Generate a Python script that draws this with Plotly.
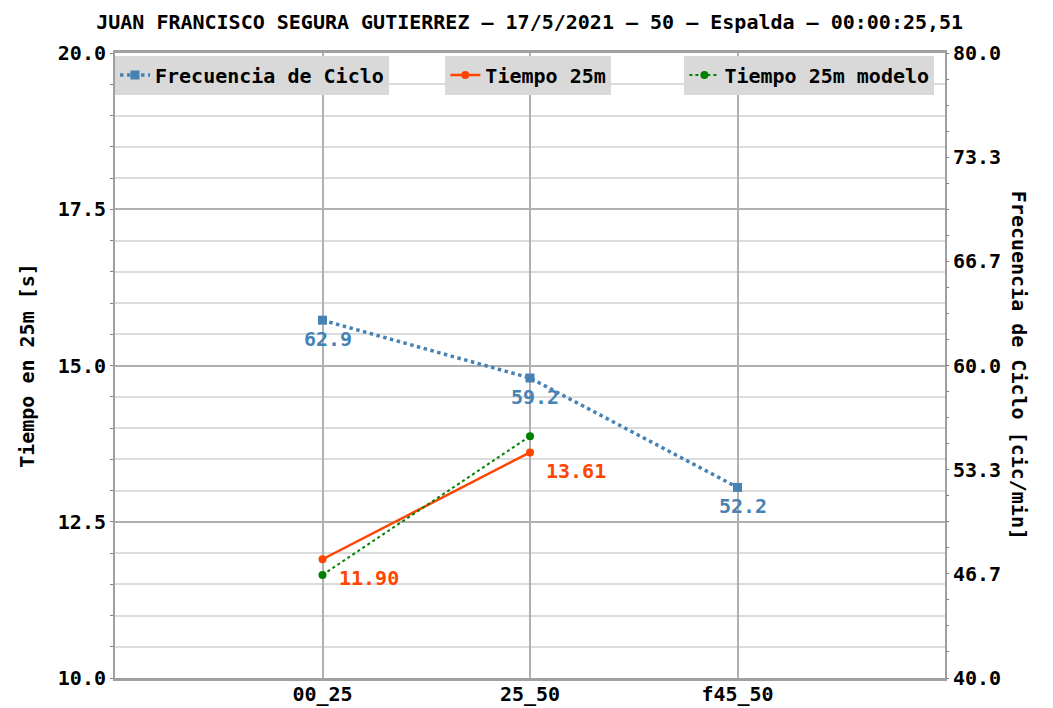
import plotly.graph_objects as go

categorias = ["00_25", "25_50", "f45_50"]
frecuencia = [62.9, 59.2, 52.2]
tiempo_cats = ["00_25", "25_50"]
tiempo_25m = [11.90, 13.61]
tiempo_modelo = [11.65, 13.87]

titulo = "JUAN FRANCISCO SEGURA GUTIERREZ – 17/5/2021 – 50 – Espalda – 00:00:25,51"
FONT = "DejaVu Sans Mono"
FS = 20
BF = dict(family=FONT, size=FS, color="black", weight="bold")

fig = go.Figure()
fig.add_trace(go.Scatter(
    x=categorias, y=frecuencia, yaxis="y2", name="Frecuencia de Ciclo",
    mode="lines+markers",
    line=dict(color="#4682b4", width=3.5, dash="dot"),
    marker=dict(symbol="square", size=9, color="#4682b4"),
    legend="legend", showlegend=True))
fig.add_trace(go.Scatter(
    x=tiempo_cats, y=tiempo_25m, name="Tiempo 25m",
    mode="lines+markers",
    line=dict(color="#ff4500", width=2.5),
    marker=dict(symbol="circle", size=8, color="#ff4500"),
    legend="legend2", showlegend=True))
fig.add_trace(go.Scatter(
    x=tiempo_cats, y=tiempo_modelo, name="Tiempo 25m modelo",
    mode="lines+markers",
    line=dict(color="#008000", width=2, dash="dot"),
    marker=dict(symbol="circle", size=8, color="#008000"),
    legend="legend3", showlegend=True))

annots = []
for c, v in zip(categorias, frecuencia):
    annots.append(dict(x=c, y=v, xref="x", yref="y2", text=f"{v:.1f}", showarrow=False,
                       xanchor="center", yanchor="middle", xshift=5, yshift=-19,
                       font=dict(family=FONT, size=FS, color="#4682b4", weight="bold")))
for c, v in zip(tiempo_cats, tiempo_25m):
    annots.append(dict(x=c, y=v, xref="x", yref="y", text=f"{v:.2f}", showarrow=False,
                       xanchor="left", yanchor="middle", xshift=14, yshift=-19,
                       font=dict(family=FONT, size=FS, color="#ff4500", weight="bold")))
annots.append(dict(text="Frecuencia de Ciclo [cic/min]", textangle=90,
                   xref="paper", yref="paper", x=1.09, y=0.5, xanchor="center", yanchor="middle",
                   showarrow=False, font=BF))

leg_common = dict(bgcolor="#d9d9d9", font=BF,
                  xref="paper", yref="paper", xanchor="left", yanchor="top",
                  borderwidth=0, itemwidth=30)
fig.update_layout(
    width=1053, height=708,
    margin=dict(l=115, r=108, t=53, b=30, autoexpand=False),
    paper_bgcolor="white", plot_bgcolor="white",
    font=BF, showlegend=True,
    title=dict(text=titulo, x=0.503, xanchor="center", y=0.969, yanchor="middle", font=BF),
    legend=dict(x=0.0, y=0.996, **leg_common),
    legend2=dict(x=0.398, y=0.996, **leg_common),
    legend3=dict(x=0.686, y=0.996, **leg_common),
    xaxis=dict(type="category", range=[-1, 3], showgrid=True, gridcolor="#b0b0b0", gridwidth=1.5,
               showline=True, linecolor="#a0a0a0", linewidth=3, mirror=True, automargin=False,
               ticks="", tickfont=BF, ticklabelstandoff=-4),
    yaxis=dict(range=[10, 20], tick0=10, dtick=2.5, tickformat=".1f", automargin=False,
               showgrid=True, gridcolor="#b0b0b0", gridwidth=1.5,
               showline=True, linecolor="#a0a0a0", linewidth=2, mirror=True,
               ticks="outside", ticklen=3, tickcolor="#808080",
               minor=dict(dtick=0.5, showgrid=True, gridcolor="#dcdcdc", gridwidth=1.5,
                          ticks="outside", ticklen=3, tickcolor="#808080"),
               title=dict(text="Tiempo en 25m [s]", font=BF, standoff=18),
               tickfont=BF, zeroline=False),
    yaxis2=dict(range=[40, 80], tick0=40, dtick=40/6, tickformat=".1f", overlaying="y", side="right",
                showgrid=False, zeroline=False, ticks="outside", ticklen=3, tickcolor="#808080",
                automargin=False,
                minor=dict(dtick=40/24, ticks="outside", ticklen=3, tickcolor="#808080", showgrid=False),
                tickfont=BF),
    annotations=annots,
)
fig.write_html("out.html", config={"displayModeBar": False},
               post_script="document.body.style.margin='0px';")
